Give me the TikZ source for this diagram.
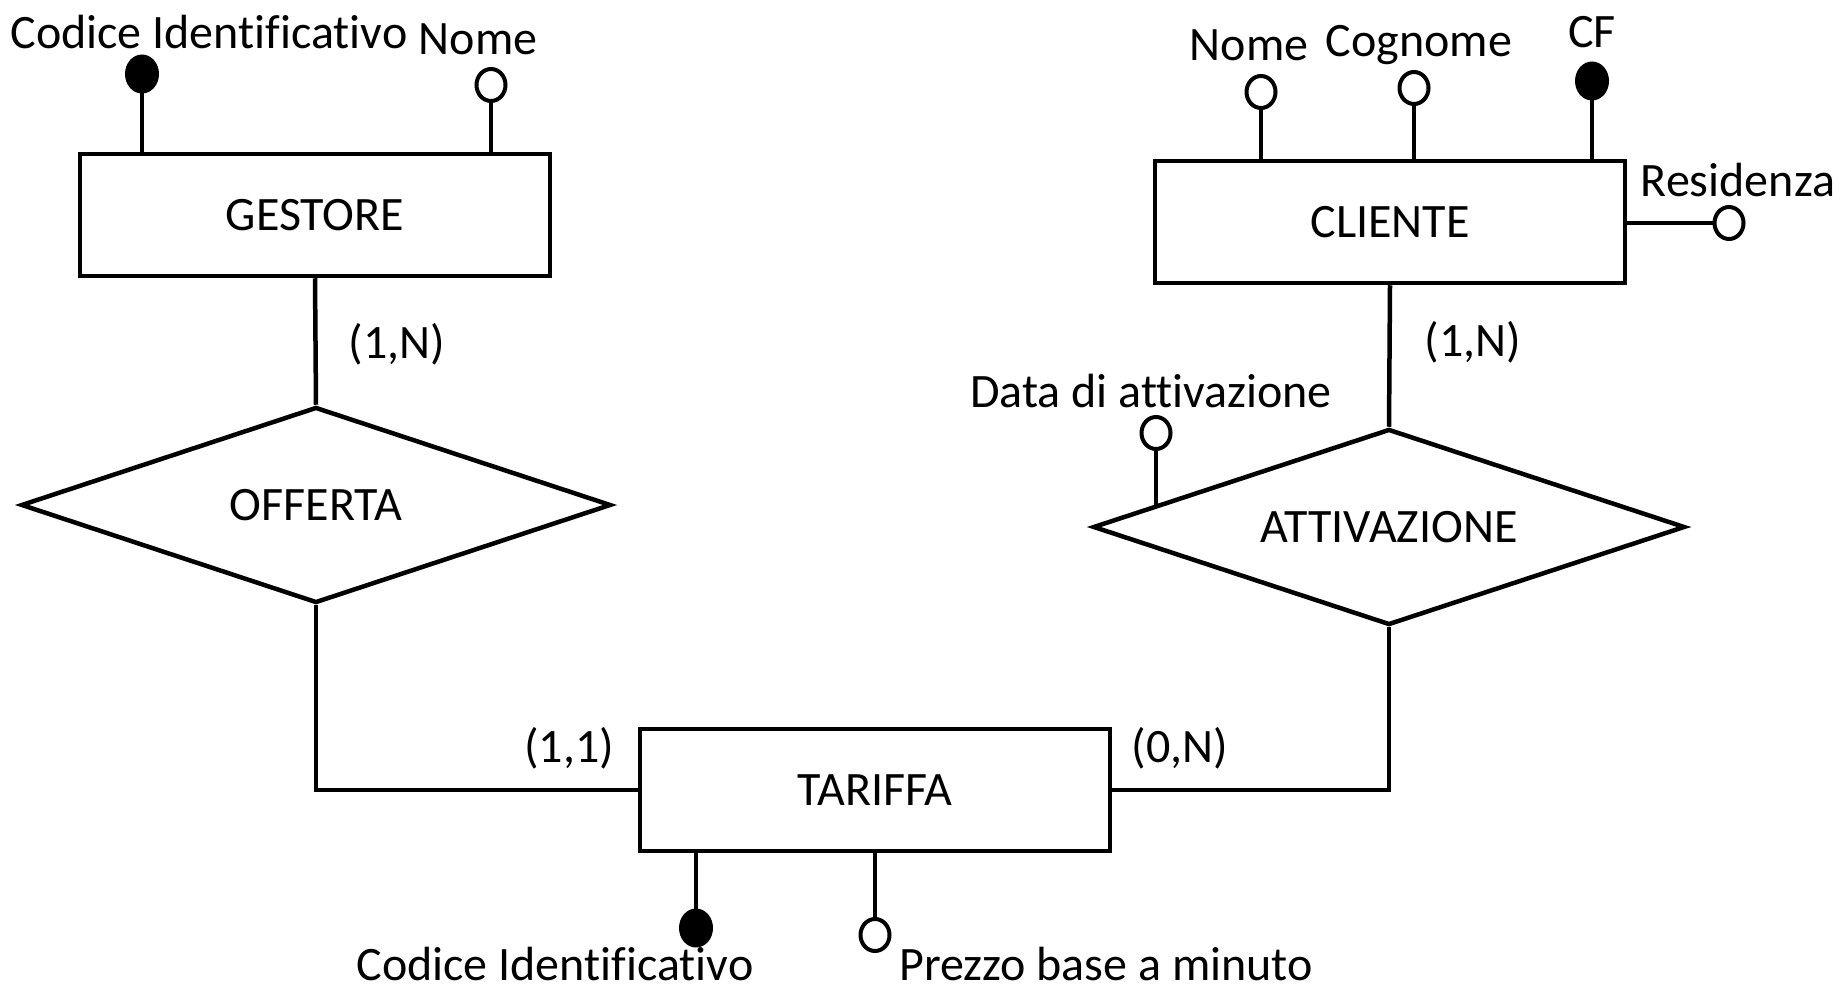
\documentclass[tikz,border=0pt]{standalone}
\usepackage{fontspec}
\setmainfont[Ligatures=CommonOff]{Carlito}
\usetikzlibrary{shapes.geometric}
\begin{document}
\begin{tikzpicture}[x=1pt,y=-1pt,
  every node/.style={font=\fontsize{48}{56}\selectfont},
  entity/.style={draw,line width=4.5pt,rectangle,minimum width=470pt,minimum height=122pt,inner sep=0pt},
  relation/.style={draw,line width=4.5pt,diamond,aspect=3.02,minimum width=590pt,minimum height=196pt,inner sep=0pt},
  conn/.style={line width=4.5pt},
  attrline/.style={line width=4pt},
  attropen/.style={draw,line width=4pt,ellipse,fill=white,minimum width=29pt,minimum height=32pt,inner sep=0pt},
  attrkey/.style={draw,line width=2pt,ellipse,fill=black,minimum width=32pt,minimum height=37pt,inner sep=0pt},
  lbl/.style={inner sep=0pt}
]
\useasboundingbox (0,0) rectangle (1841,984);
% entities and relations
\node[entity] (ges) at (315,215) {GESTORE};
\node[entity] (cli) at (1390,222) {CLIENTE};
\node[entity] (tar) at (875,790) {TARIFFA};
\node[relation,minimum width=590pt] (off) at (316,505) {OFFERTA};
\node[relation,minimum width=592pt] (att) at (1389,527) {ATTIVAZIONE};
% connectors
\draw[conn] (ges.south) -- (off.north);
\draw[conn] (off.south) |- (tar.west);
\draw[conn] (tar.east) -| (att.south);
\draw[conn] (att.north) -- (cli.south);
% cardinalities
\node[lbl] (c1) at (397,344) {(1,N)};
\node[lbl] (c2) at (569,748) {(1,1)};
\node[lbl] (c3) at (1180,748) {(0,N)};
\node[lbl] (c4) at (1473,342) {(1,N)};
% GESTORE attributes
\node[attrkey] (gk) at (142,74) {};
\node[attropen] (gn) at (491,85) {};
\draw[attrline] (gk) -- (gk |- ges.north);
\draw[attrline] (gn) -- (gn |- ges.north);
\node[lbl] (gkt) at (209,32) {Codice Identif\kern0pt icativo};
\node[lbl] (gnt) at (478,39) {Nome};
% CLIENTE attributes
\node[attropen] (cn) at (1261,92) {};
\node[attropen] (cc) at (1414,88) {};
\node[attrkey] (cf) at (1592,81) {};
\node[attropen] (cr) at (1729,223) {};
\draw[attrline] (cn) -- (cn |- cli.north);
\draw[attrline] (cc) -- (cc |- cli.north);
\draw[attrline] (cf) -- (cf |- cli.north);
\draw[attrline] (cr) -- (cr -| cli.east);
\node[lbl] (cnt) at (1249,45) {Nome};
\node[lbl] (cct) at (1419,45) {Cognome};
\node[lbl] (cft) at (1592,32) {CF};
\node[lbl] (crt) at (1738,180) {Residenza};
% ATTIVAZIONE attribute
\node[attropen] (da) at (1156,433) {};
\path (att.west) -- (att.north) coordinate[pos=0.213] (dae);
\draw[attrline] (da) -- (da |- dae);
\node[lbl] (dat) at (1151,391) {Data di attivazione};
% TARIFFA attributes
\node[attrkey] (tk) at (696,928) {};
\node[attropen] (tp) at (875,935) {};
\draw[attrline] (tk) -- (tk |- tar.south);
\draw[attrline] (tp) -- (tp |- tar.south);
\node[lbl] (tkt) at (555,964) {Codice Identif\kern0pt icativo};
\node[lbl] (tpt) at (1106,964) {Prezzo base a minuto};
\end{tikzpicture}
\end{document}
